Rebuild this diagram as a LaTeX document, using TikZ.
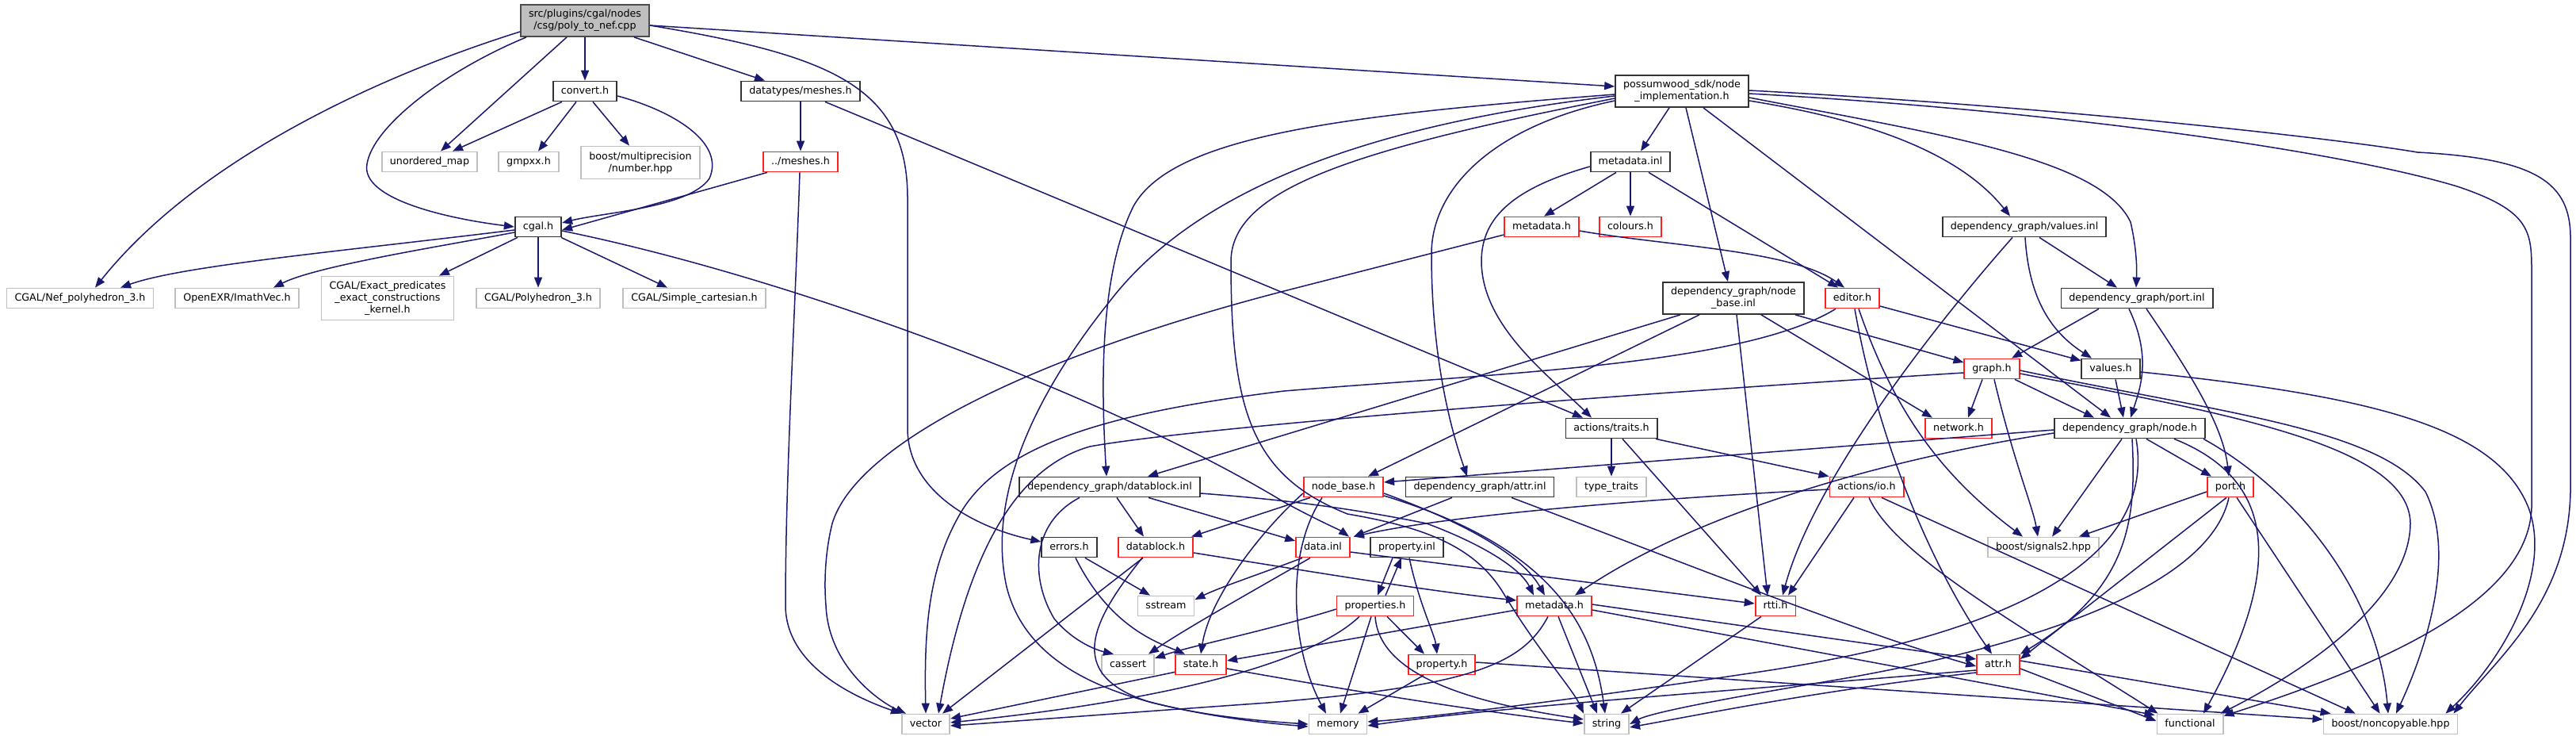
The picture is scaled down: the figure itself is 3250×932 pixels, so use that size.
\documentclass[tikz,border=0pt]{standalone}
\usepackage{fontspec}
\newfontfamily\dv{DejaVu Sans}
\usetikzlibrary{arrows.meta,calc}
\definecolor{edgeblue}{HTML}{191970}
\definecolor{nodered}{HTML}{FF2020}
\definecolor{nodegray}{HTML}{BFBFBF}
\tikzset{
  nd/.style={rectangle, line width=1.8pt, minimum height=25pt, inner xsep=10pt, inner ysep=0pt, text height=9.6pt, text depth=3pt, font=\dv\fontsize{12.7}{15}\selectfont, text=black},
  ml/.style={align=center, text height=, text depth=},
  bk/.style={nd, draw=black!80},
  rd/.style={nd, draw=nodered},
  gy/.style={nd, draw=nodegray},
  rt/.style={nd, draw=black!70, fill=nodegray},
  e/.style={draw=edgeblue, line width=1.5pt, -{Triangle[length=13pt,width=10pt]}},
}
\begin{document}
\begin{tikzpicture}[x=1pt,y=-1pt]
\useasboundingbox[fill=white] (0,0) rectangle (3250,932);
% nodes
\node[rt,ml,minimum height=40pt] (top) at (738,26) {src/plugins/cgal/nodes\\/csg/poly\_to\_nef.cpp};
\node[bk] (convert) at (738,115) {convert.h};
\node[gy] (umap) at (542,204) {unordered\_map};
\node[gy] (gmpxx) at (667,204) {gmpxx.h};
\node[gy,ml,minimum height=41pt] (number) at (808,205) {boost/multiprecision\\/number.hpp};
\node[bk] (cgal) at (679,286) {cgal.h};
\node[gy] (nef) at (101,376) {CGAL/Nef\_polyhedron\_3.h};
\node[gy] (imath) at (299,376) {OpenEXR/ImathVec.h};
\node[gy,ml,minimum height=55pt] (exact) at (489,376) {CGAL/Exact\_predicates\\\_exact\_constructions\\\_kernel.h};
\node[gy] (polyh) at (679,376) {CGAL/Polyhedron\_3.h};
\node[gy] (simple) at (876,376) {CGAL/Simple\_cartesian.h};
\node[bk] (dmeshes) at (1010,115) {datatypes/meshes.h};
\node[rd] (meshes) at (1010,204) {../meshes.h};
\node[bk,ml,minimum height=40pt] (ni) at (2122,115) {possumwood\_sdk/node\\\_implementation.h};
\node[bk] (mdinl) at (2057,204) {metadata.inl};
\node[rd] (mdh1) at (1945,286) {metadata.h};
\node[rd] (colours) at (2057,286) {colours.h};
\node[bk] (valinl) at (2554,286) {dependency\_graph/values.inl};
\node[bk,ml,minimum height=40pt] (nbinl) at (2187,376) {dependency\_graph/node\\\_base.inl};
\node[rd] (editor) at (2337,376) {editor.h};
\node[bk] (portinl) at (2696,376) {dependency\_graph/port.inl};
\node[rd] (graph) at (2513,465) {graph.h};
\node[bk] (values) at (2663,465) {values.h};
\node[bk] (traits) at (2033,540) {actions/traits.h};
\node[rd] (network) at (2471,540) {network.h};
\node[bk] (nodeh) at (2687,540) {dependency\_graph/node.h};
\node[rd] (nbh) at (1695,614) {node\_base.h};
\node[bk] (attrinl) at (1867,614) {dependency\_graph/attr.inl};
\node[gy] (typetraits) at (2033,614) {type\_traits};
\node[rd] (io) at (2355,614) {actions/io.h};
\node[bk] (dbinl) at (1400,614) {dependency\_graph/datablock.inl};
\node[rd] (porth) at (2814,614) {port.h};
\node[bk] (errors) at (1349,690) {errors.h};
\node[rd] (dbh) at (1458,690) {datablock.h};
\node[rd] (datainl) at (1669,690) {data.inl};
\node[bk] (propinl) at (1775,690) {property.inl};
\node[gy] (signals) at (2578,690) {boost/signals2.hpp};
\node[gy] (sstream) at (1471,764) {sstream};
\node[rd] (propsh) at (1735,764) {properties.h};
\node[rd] (mdh2) at (1961,764) {metadata.h};
\node[rd] (rtti) at (2240,764) {rtti.h};
\node[gy] (cassert) at (1423,838) {cassert};
\node[rd] (state) at (1515,838) {state.h};
\node[rd] (proph) at (1819,838) {property.h};
\node[rd] (attrh) at (2521,838) {attr.h};
\node[gy] (vector) at (1168,913) {vector};
\node[gy] (memory) at (1688,913) {memory};
\node[gy] (string) at (2027,913) {string};
\node[gy] (functional) at (2763,913) {functional};
\node[gy] (noncopy) at (3016,913) {boost/noncopyable.hpp};
% top
\draw[e] ($(top.west)+(0,14)$) .. controls (480,95) and (250,200) .. ($(nef.north)+(19,0)$);
\draw[e] ($(top.south)+(-23,0)$) -- ($(umap.north)+(14,0)$);
\draw[e] ($(top.south)+(-74,0)$) .. controls (560,90) and (470,160) .. (463,207) .. controls (455,250) and (560,275) .. (cgal.west);
\draw[e] (top) -- (convert);
\draw[e] ($(top.south)+(62,0)$) -- ($(dmeshes.north)+(-45,0)$);
\draw[e] ($(top.east)+(0,6)$) .. controls (1050,70) and (1145,110) .. (1145,250) -- (1145,540) .. controls (1145,620) and (1230,665) .. ($(errors.west)+(0,-7)$);
\draw[e] ($(top.east)+(0,6)$) -- ($(ni.west)+(0,-6)$);
% convert
\draw[e] ($(convert.south)+(-29,0)$) -- ($(umap.north)+(29,0)$);
\draw[e] ($(convert.south)+(-11,0)$) -- ($(gmpxx.north)+(12,0)$);
\draw[e] ($(convert.south)+(10,0)$) -- ($(number.north)+(-14,0)$);
\draw[e] ($(convert.east)+(0,6)$) .. controls (850,140) and (915,180) .. (895,225) .. controls (870,262) and (760,268) .. ($(cgal.east)+(0,-5)$);
% meshes
\draw[e] (dmeshes) -- (meshes);
\draw[e] ($(dmeshes.south)+(31,0)$) -- ($(traits.north)+(-36,0)$);
\draw[e] ($(meshes.south)+(-42,0)$) -- ($(cgal.east)+(0,4)$);
\draw[e] ($(meshes.south)+(-1,0)$) .. controls (1003,400) and (991,600) .. (991,763) .. controls (991,840) and (1080,880) .. (vector.north west);
% cgal
\draw[e] ($(cgal.west)+(0,4)$) .. controls (420,318) and (230,335) .. ($(nef.north)+(51,0)$);
\draw[e] ($(cgal.west)+(0,7)$) .. controls (560,310) and (400,335) .. ($(imath.north)+(46,0)$);
\draw[e] ($(cgal.south)+(-26,0)$) -- ($(exact.north)+(65,0)$);
\draw[e] (cgal) -- (polyh);
\draw[e] ($(cgal.south)+(29,0)$) -- ($(simple.north)+(-34,0)$);
\draw[e] ($(cgal.east)+(0,5)$) .. controls (1000,350) and (1400,500) .. (1620,633) .. controls (1660,655) and (1690,668) .. ($(datainl.north)+(33,0)$);
% ni
\draw[e] ($(ni.south)+(-16,0)$) -- ($(mdinl.north)+(13,0)$);
\draw[e] ($(ni.south)+(5,0)$) -- ($(nbinl.north)+(-7,0)$);
\draw[e] ($(ni.south)+(27,0)$) -- ($(nodeh.north)+(-24,0)$);
\draw[e] ($(ni.west)+(0,12)$) .. controls (1880,160) and (1806,240) .. (1806,320) .. controls (1806,450) and (1830,540) .. ($(attrinl.north)+(-16,0)$);
\draw[e] ($(ni.west)+(0,4)$) .. controls (1700,145) and (1480,170) .. (1430,260) .. controls (1385,350) and (1390,500) .. ($(dbinl.north)+(-4,0)$);
\draw[e] ($(ni.west)+(0,6)$) .. controls (1700,160) and (1500,250) .. (1400,380) .. controls (1280,530) and (1250,650) .. (1270,740) .. controls (1300,860) and (1450,900) .. (memory.west);
\draw[e] ($(ni.west)+(0,9)$) .. controls (1700,190) and (1553,240) .. (1553,330) .. controls (1553,520) and (1580,600) .. (1700,648) .. controls (1800,665) and (1860,690) .. (1895,745) .. controls (1940,820) and (1985,870) .. (string.north west);
\draw[e] ($(ni.east)+(0,12)$) .. controls (2350,150) and (2470,190) .. ($(valinl.north)+(-18,0)$);
\draw[e] ($(ni.east)+(0,8)$) .. controls (2450,170) and (2650,200) .. (2688,280) .. controls (2696,315) and (2696,340) .. ($(portinl.north)+(-1,0)$);
\draw[e] ($(ni.east)+(0,3)$) .. controls (2600,140) and (2950,190) .. (3100,235) .. controls (3190,265) and (3194,290) .. (3194,340) -- (3194,640) .. controls (3190,760) and (3000,840) .. ($(functional.north east)+(0,3)$);
\draw[e] ($(ni.east)+(0,-1)$) .. controls (2600,135) and (2950,175) .. (3050,192) .. controls (3200,200) and (3243,230) .. (3243,300) -- (3243,620) .. controls (3240,760) and (3150,830) .. ($(noncopy.north east)+(-6,0)$);
% metadata.inl
\draw[e] ($(mdinl.south)+(-18,0)$) -- ($(mdh1.north)+(3,0)$);
\draw[e] (mdinl) -- (colours);
\draw[e] ($(mdinl.south)+(23,0)$) -- ($(editor.north)+(-18,0)$);
\draw[e] ($(mdinl.west)+(0,6)$) .. controls (1900,240) and (1869,280) .. (1869,330) .. controls (1870,410) and (1950,470) .. ($(traits.north)+(-25,0)$);
% metadata.h (sdk)
\draw[e] ($(mdh1.east)+(0,5)$) .. controls (2100,310) and (2260,315) .. ($(editor.north)+(-10,0)$);
\draw[e] ($(mdh1.west)+(0,10)$) -- (1620,367) .. controls (1300,450) and (1080,560) .. (1050,660) .. controls (1040,700) and (1040,740) .. (1042,763) .. controls (1045,840) and (1110,885) .. ($(vector.north west)+(6,0)$);
% values.inl
\draw[e] ($(valinl.south)+(1,0)$) .. controls (2560,380) and (2590,420) .. ($(values.north)+(-24,0)$);
\draw[e] ($(valinl.south)+(19,0)$) -- ($(portinl.north)+(-25,0)$);
\draw[e] ($(valinl.south)+(-15,0)$) .. controls (2450,400) and (2290,600) .. ($(rtti.north)+(9,0)$);
% node_base.inl
\draw[e] ($(nbinl.south)+(-67,0)$) -- ($(dbinl.north)+(48,0)$);
\draw[e] ($(nbinl.south)+(-43,0)$) -- ($(nbh.north)+(31,0)$);
\draw[e] ($(nbinl.south)+(4,0)$) -- ($(rtti.north)+(-10,0)$);
\draw[e] ($(nbinl.south)+(35,0)$) -- ($(network.north)+(-33,0)$);
\draw[e] ($(nbinl.south)+(78,0)$) -- ($(graph.west)+(0,-8)$);
% editor
\draw[e] ($(editor.south)+(-21,0)$) .. controls (2200,460) and (1900,470) .. (1620,493) .. controls (1400,520) and (1260,560) .. (1210,650) .. controls (1170,720) and (1166,800) .. (vector.north);
\draw[e] ($(editor.east)+(0,10)$) -- ($(values.north west)+(0,3)$);
\draw[e] ($(editor.south)+(3,0)$) .. controls (2370,560) and (2440,720) .. ($(attrh.north)+(-8,0)$);
\draw[e] ($(editor.south)+(8,0)$) .. controls (2390,520) and (2450,600) .. ($(signals.north)+(-26,0)$);
% graph
\draw[e] ($(graph.south)+(-12,0)$) -- ($(network.north)+(12,0)$);
\draw[e] ($(graph.south)+(29,0)$) -- ($(nodeh.north)+(-45,0)$);
\draw[e] ($(graph.west)+(0,5)$) .. controls (2000,500) and (1500,540) .. (1375,563) .. controls (1280,590) and (1220,700) .. ($(vector.north)+(16,0)$);
\draw[e] ($(graph.south)+(3,0)$) .. controls (2540,580) and (2565,640) .. ($(signals.north)+(-7,0)$);
\draw[e] ($(graph.east)+(0,2)$) .. controls (2800,520) and (3000,540) .. (3060,620) .. controls (3100,700) and (3060,820) .. ($(noncopy.north)+(7,0)$);
\draw[e] ($(graph.east)+(0,6)$) .. controls (2800,520) and (3040,560) .. (3041,660) .. controls (3040,760) and (2900,850) .. ($(functional.north east)+(-4,0)$);
% values.h
\draw[e] ($(values.south)+(6,0)$) -- ($(nodeh.north)+(-8,0)$);
\draw[e] ($(values.east)+(0,4)$) .. controls (3000,500) and (3150,540) .. (3190,640) .. controls (3220,720) and (3160,830) .. ($(noncopy.north east)+(-16,0)$);
% port.inl
\draw[e] ($(portinl.south)+(-48,0)$) -- ($(graph.north)+(25,0)$);
\draw[e] ($(portinl.south)+(-10,0)$) .. controls (2715,450) and (2700,490) .. ($(nodeh.north)+(1,0)$);
\draw[e] ($(portinl.south)+(12,0)$) .. controls (2770,480) and (2805,540) .. ($(porth.north)+(-2,0)$);
% traits
\draw[e] (traits) -- (typetraits);
\draw[e] ($(traits.south)+(56,0)$) -- (io.north west);
\draw[e] ($(traits.south)+(14,0)$) -- ($(rtti.north)+(-18,0)$);
% io
\draw[e] ($(io.south)+(-16,0)$) -- ($(rtti.north)+(16,0)$);
\draw[e] ($(io.west)+(0,3)$) .. controls (2150,625) and (1850,645) .. ($(datainl.north east)+(4,0)$);
\draw[e] ($(io.south)+(3,0)$) .. controls (2390,700) and (2550,790) .. ($(functional.north west)+(2,0)$);
\draw[e] ($(io.south)+(19,0)$) -- ($(noncopy.north west)+(41,0)$);
% node.h
\draw[e] ($(nodeh.west)+(0,2)$) -- ($(nbh.east)+(0,-6)$);
\draw[e] ($(nodeh.west)+(0,6)$) .. controls (2400,575) and (2150,640) .. ($(mdh2.north)+(26,0)$);
\draw[e] ($(nodeh.south)+(-10,0)$) -- ($(signals.north)+(11,0)$);
\draw[e] ($(nodeh.south)+(3,0)$) .. controls (2695,650) and (2690,740) .. (attrh.north east);
\draw[e] ($(nodeh.south)+(8,0)$) .. controls (2720,700) and (2550,800) .. (2200,850) .. controls (2000,880) and (1800,905) .. ($(memory.east)+(0,-3)$);
\draw[e] ($(nodeh.south)+(21,0)$) -- ($(porth.north west)+(6,0)$);
\draw[e] ($(nodeh.south)+(56,0)$) .. controls (2860,600) and (2890,700) .. ($(functional.north)+(17,0)$);
\draw[e] ($(nodeh.south)+(93,0)$) .. controls (2900,620) and (3000,750) .. ($(noncopy.north)+(-3,0)$);
% port.h
\draw[e] ($(porth.west)+(0,6)$) -- ($(signals.north east)+(-26,0)$);
\draw[e] ($(porth.south)+(-5,0)$) -- ($(attrh.east)+(0,-7)$);
\draw[e] ($(porth.south)+(-2,0)$) .. controls (2790,730) and (2600,810) .. (2300,860) .. controls (2150,885) and (2080,900) .. (string.east);
\draw[e] ($(porth.south)+(8,0)$) -- ($(noncopy.north west)+(72,0)$);
% datablock.inl
\draw[e] ($(dbinl.south)+(9,0)$) -- ($(dbh.north)+(-15,0)$);
\draw[e] ($(dbinl.south)+(-38,0)$) .. controls (1300,660) and (1300,730) .. (1330,780) .. controls (1355,810) and (1385,820) .. ($(cassert.north)+(-18,0)$);
\draw[e] ($(dbinl.south)+(49,0)$) -- ($(datainl.west)+(0,-8)$);
\draw[e] ($(dbinl.east)+(0,8)$) .. controls (1620,630) and (1700,640) .. (1800,660) .. controls (1880,690) and (1920,720) .. ($(mdh2.north)+(-26,0)$);
% datablock.h
\draw[e] ($(dbh.south)+(-16,0)$) -- ($(vector.north east)+(-10,0)$);
\draw[e] ($(dbh.south)+(-17,0)$) .. controls (1380,780) and (1340,850) .. (1450,885) .. controls (1530,905) and (1600,912) .. ($(memory.west)+(0,3)$);
\draw[e] ($(dbh.east)+(0,7)$) .. controls (1650,720) and (1800,745) .. ($(mdh2.west)+(0,-7)$);
% errors
\draw[e] ($(errors.south)+(20,0)$) -- ($(sstream.north)+(-20,0)$);
\draw[e] ($(errors.south)+(8,0)$) .. controls (1400,790) and (1460,810) .. ($(state.north)+(-20,0)$);
% data.inl
\draw[e] ($(datainl.south)+(-26,0)$) .. controls (1600,720) and (1540,740) .. ($(sstream.east)+(0,-8)$);
\draw[e] ($(datainl.south)+(-16,0)$) .. controls (1590,740) and (1500,790) .. ($(cassert.north east)+(-8,0)$);
\draw[e] ($(datainl.east)+(0,6)$) -- ($(rtti.west)+(0,-3)$);
% property
\draw[e] ($(propinl.south)+(-18,0)$) -- ($(propsh.north)+(3,0)$);
\draw[e] ($(propsh.north)+(13,0)$) -- ($(propinl.south)+(-7,0)$);
\draw[e] ($(propinl.south)+(3,0)$) .. controls (1790,760) and (1810,800) .. ($(proph.north)+(-6,0)$);
\draw[e] ($(propsh.west)+(0,4)$) .. controls (1600,795) and (1500,815) .. ($(cassert.east)+(0,-8)$);
\draw[e] ($(propsh.south)+(-20,0)$) .. controls (1660,830) and (1500,880) .. ($(vector.east)+(0,-2)$);
\draw[e] ($(propsh.south)+(-5,0)$) -- ($(memory.north)+(3,0)$);
\draw[e] (propsh.south) .. controls (1740,850) and (1850,885) .. ($(string.west)+(0,-6)$);
\draw[e] ($(propsh.south)+(15,0)$) -- ($(proph.north)+(-22,0)$);
% metadata.h (dg)
\draw[e] ($(mdh2.west)+(0,5)$) -- ($(state.east)+(0,-5)$);
\draw[e] ($(mdh2.south)+(-8,0)$) .. controls (1920,840) and (1850,865) .. (1600,886) .. controls (1400,900) and (1300,908) .. ($(vector.east)+(0,2)$);
\draw[e] ($(mdh2.south)+(5,0)$) -- ($(string.north)+(-12,0)$);
\draw[e] ($(mdh2.east)+(0,-2)$) -- ($(attrh.west)+(0,-7)$);
\draw[e] ($(mdh2.east)+(0,5)$) -- ($(functional.north west)+(-2,2)$);
% property.h
\draw[e] ($(proph.south)+(-23,0)$) -- ($(memory.north east)+(-12,0)$);
\draw[e] ($(proph.east)+(0,-3)$) -- ($(noncopy.west)+(0,-6)$);
% state.h
\draw[e] ($(state.south west)+(0,-4)$) -- ($(vector.east)+(0,-7)$);
\draw[e] ($(state.east)+(0,5)$) .. controls (1700,870) and (1850,895) .. ($(string.west)+(0,-1)$);
% rtti
\draw[e] ($(rtti.south)+(-18,0)$) -- ($(string.north)+(18,0)$);
% node_base.h
\draw[e] ($(nbh.south)+(-42,0)$) -- ($(dbh.north east)+(-3,0)$);
\draw[e] ($(nbh.west)+(0,8)$) .. controls (1580,680) and (1525,760) .. (state.north);
\draw[e] ($(nbh.south)+(-27,0)$) .. controls (1620,700) and (1630,820) .. ($(memory.north)+(-15,0)$);
\draw[e] ($(nbh.east)+(0,8)$) .. controls (1850,660) and (1920,700) .. ($(mdh2.north)+(-12,0)$);
\draw[e] ($(nbh.east)+(0,11)$) .. controls (1960,690) and (2010,790) .. ($(string.north)+(-2,0)$);
% attr.inl
\draw[e] ($(attrinl.south)+(-35,0)$) -- ($(datainl.north east)+(4,0)$);
\draw[e] ($(attrinl.south)+(40,0)$) .. controls (2100,700) and (2350,800) .. ($(attrh.west)+(0,2)$);
% attr.h
\draw[e] ($(attrh.west)+(0,7)$) .. controls (2200,870) and (1900,890) .. ($(memory.east)+(0,2)$);
\draw[e] ($(attrh.west)+(0,10)$) .. controls (2300,870) and (2150,900) .. ($(string.east)+(0,4)$);
\draw[e] ($(attrh.east)+(0,5)$) -- ($(functional.west)+(0,-4)$);
\draw[e] ($(attrh.east)+(0,-5)$) -- ($(noncopy.north west)+(10,0)$);
\end{tikzpicture}
\end{document}
